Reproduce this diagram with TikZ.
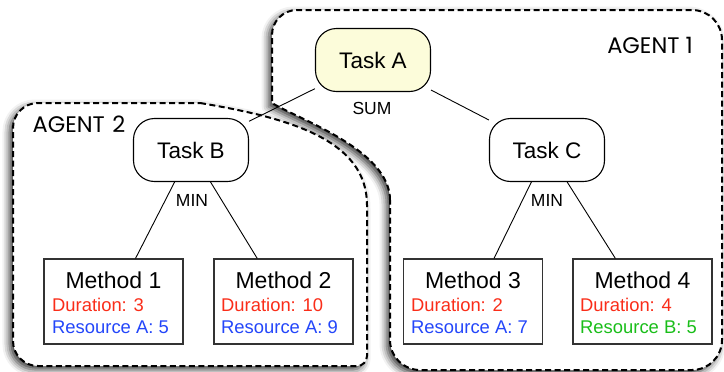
\documentclass[tikz,border=0pt]{standalone}
\usepackage{fontspec}
\setmainfont{Liberation Sans}
\newfontfamily\agentfont{Poppins}
\usetikzlibrary{shadows.blur}
\definecolor{durred}{RGB}{250,45,25}
\definecolor{resblue}{RGB}{35,70,250}
\definecolor{resgreen}{RGB}{25,190,25}
\definecolor{taskyellow}{RGB}{252,252,218}
\begin{document}
\begin{tikzpicture}[x=1pt,y=-1pt,
 agent/.style={draw=black, line width=2pt, dash pattern=on 6pt off 3.5pt, fill=white,
   blur shadow={shadow xshift=-3.5pt,shadow yshift=-3.5pt,shadow blur radius=7pt,shadow opacity=80}},
 task/.style={draw=black, line width=1.1pt, rounded corners=21pt, minimum width=115pt,
   minimum height=63pt, inner sep=0pt, font=\fontsize{22.5}{27}\selectfont},
 method/.style={draw=black!80, line width=1.1pt, minimum width=139pt, minimum height=85pt, inner sep=0pt},
 mtitle/.style={font=\fontsize{23}{27}\selectfont, inner sep=0pt, anchor=base},
 mline/.style={font=\fontsize{18.4}{22}\selectfont, inner sep=0pt, anchor=base west},
 op/.style={font=\fontsize{17.5}{20}\selectfont, inner sep=0pt},
 agentlabel/.style={font=\agentfont\fontsize{22.5}{26}\selectfont, inner sep=0pt},
 link/.style={draw=black, line width=0.9pt}]
\useasboundingbox (0,0) rectangle (724,372);
% agent regions
\path[agent] (390,200) .. controls (390,150) and (300,120) .. (272,103)
  -- (272,35) .. controls (272,21.2) and (283.2,10) .. (297,10)
  -- (692,10) .. controls (708.6,10) and (722,23.4) .. (722,40)
  -- (722,340) .. controls (722,356.6) and (708.6,370) .. (692,370)
  -- (420,370) .. controls (403.4,370) and (390,356.6) .. (390,340) -- cycle;
\path[agent] (200,103) .. controls (290,118) and (367,140) .. (367,205)
  -- (367,356) .. controls (367,361.5) and (362.5,366) .. (357,366)
  -- (38,366) .. controls (24.2,366) and (13,354.8) .. (13,341)
  -- (13,128) .. controls (13,114.2) and (24.2,103) .. (38,103) -- cycle;
\node[agentlabel] (ag1) at (650,45) {AGENT 1};
\node[agentlabel] (ag2) at (79,124) {AGENT\,\,2};
% tasks
\node[task, fill=taskyellow] (ta) at (373,60) {Task A};
\node[task, fill=white] (tb) at (191,150) {Task B};
\node[task, fill=white] (tc) at (547,150) {Task C};
% methods
\node[method] (m1) at (113.5,301.5) {};
\node[method] (m2) at (283.5,301.5) {};
\node[method] (m3) at (473,301.5) {};
\node[method] (m4) at (642.5,301.5) {};
% connectors
\draw[link] (ta) -- (tb);
\draw[link] (ta) -- (tc);
\draw[link] (tb) -- (m1);
\draw[link] (tb) -- (m2);
\draw[link] (tc) -- (m3);
\draw[link] (tc) -- (m4);
% operators
\node[op] (sum) at (372,108) {SUM};
\node[op] (minb) at (192,200) {MIN};
\node[op] (minc) at (547,200) {MIN};
% method texts
\node[mtitle] (m1t) at (113.5,288) {Method 1};
\node[mline, text=durred] (m1d) at (52,311.5) {Duration: 3};
\node[mline, text=resblue] (m1r) at (52,333.5) {Resource A: 5};
\node[mtitle] (m2t) at (283.5,288) {Method 2};
\node[mline, text=durred] (m2d) at (221,311.5) {Duration: 10};
\node[mline, text=resblue] (m2r) at (221,333.5) {Resource A: 9};
\node[mtitle] (m3t) at (473,288) {Method 3};
\node[mline, text=durred] (m3d) at (411,311.5) {Duration: 2};
\node[mline, text=resblue] (m3r) at (411,333.5) {Resource A: 7};
\node[mtitle] (m4t) at (642.5,288) {Method 4};
\node[mline, text=durred] (m4d) at (580,311.5) {Duration: 4};
\node[mline, text=resgreen] (m4r) at (580,333.5) {Resource B: 5};
\end{tikzpicture}
\end{document}
